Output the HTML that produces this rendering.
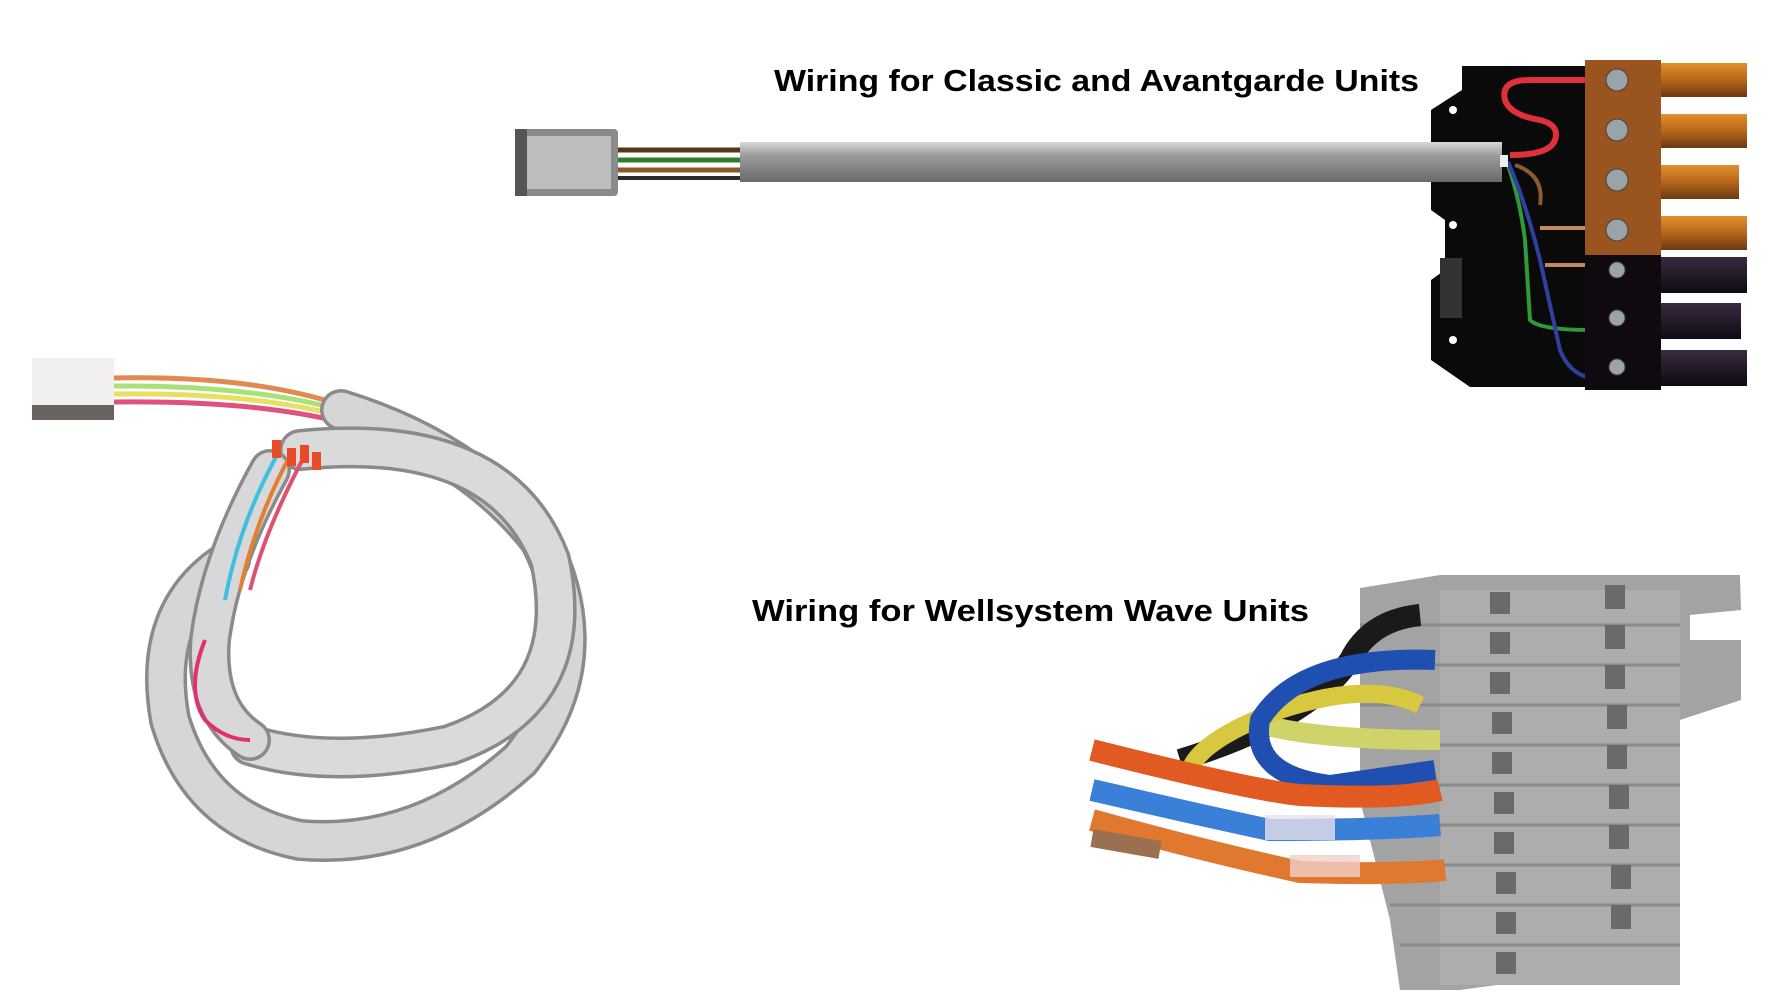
<!DOCTYPE html>
<html><head><meta charset="utf-8"><style>
html,body{margin:0;padding:0;background:#fff;}
svg{display:block}
text{font-family:"Liberation Sans",sans-serif;font-weight:bold;fill:#000}
</style></head><body>
<svg width="1775" height="1002" viewBox="0 0 1775 1002" xmlns="http://www.w3.org/2000/svg">
<defs>
<linearGradient id="cab" x1="0" y1="0" x2="0" y2="1">
<stop offset="0" stop-color="#d8d8d8"/><stop offset="0.35" stop-color="#9a9a9a"/><stop offset="1" stop-color="#6a6a6a"/></linearGradient>
<linearGradient id="pin" x1="0" y1="0" x2="0" y2="1">
<stop offset="0" stop-color="#e0902e"/><stop offset="0.5" stop-color="#b8661a"/><stop offset="1" stop-color="#6a3a10"/></linearGradient>
<linearGradient id="dpin" x1="0" y1="0" x2="0" y2="1">
<stop offset="0" stop-color="#3a2a40"/><stop offset="1" stop-color="#0e0a12"/></linearGradient>
</defs>

<text x="774" y="91" font-size="31" textLength="645" lengthAdjust="spacingAndGlyphs">Wiring for Classic and Avantgarde Units</text>
<text x="752" y="621" font-size="31" textLength="557" lengthAdjust="spacingAndGlyphs">Wiring  for Wellsystem Wave Units</text>

<!-- Top cable -->
<rect x="515" y="129" width="103" height="67" rx="4" fill="#8a8a8a"/>
<rect x="522" y="136" width="89" height="53" fill="#bdbdbd"/>
<rect x="515" y="129" width="12" height="67" fill="#555"/>
<line x1="618" y1="150" x2="740" y2="150" stroke="#5a3418" stroke-width="5"/>
<line x1="618" y1="160" x2="740" y2="160" stroke="#2f7d32" stroke-width="5"/>
<line x1="618" y1="170" x2="740" y2="170" stroke="#8a5a2a" stroke-width="5"/>
<line x1="618" y1="178" x2="740" y2="178" stroke="#2a2a2a" stroke-width="4"/>

<!-- Terminal block -->
<polygon points="1462,66 1595,66 1595,387 1470,387 1431,360 1431,280 1445,270 1445,220 1431,210 1431,110 1462,90" fill="#0a0a0a"/>
<circle cx="1453" cy="110" r="4" fill="#fff"/><circle cx="1453" cy="225" r="4" fill="#fff"/><circle cx="1453" cy="340" r="4" fill="#fff"/>
<rect x="1440" y="258" width="22" height="60" fill="#333"/>
<path d="M1585,80 L1530,80 Q1500,80 1505,100 Q1510,115 1540,120 Q1560,125 1555,140 Q1550,155 1510,155" fill="none" stroke="#e0303a" stroke-width="6"/>
<path d="M1508,165 Q1520,200 1525,240 L1530,320 Q1540,330 1590,330" fill="none" stroke="#2f9a3a" stroke-width="4"/>
<path d="M1508,162 Q1525,200 1540,260 L1560,350 Q1570,375 1592,378" fill="none" stroke="#3040a0" stroke-width="4"/>
<path d="M1515,165 Q1545,175 1540,205" fill="none" stroke="#8a5a30" stroke-width="4"/>
<line x1="1540" y1="228" x2="1585" y2="228" stroke="#c08a60" stroke-width="4"/>
<line x1="1545" y1="265" x2="1585" y2="265" stroke="#c08a60" stroke-width="4"/>
<rect x="740" y="142" width="762" height="40" fill="url(#cab)"/>
<rect x="1500" y="155" width="8" height="12" fill="#eee"/>
<rect x="1585" y="60" width="76" height="195" fill="#9a5420"/>
<rect x="1585" y="255" width="76" height="135" fill="#0e0a10"/>
<g fill="#9aa4a8" stroke="#444" stroke-width="1">
<circle cx="1617" cy="80" r="11"/><circle cx="1617" cy="130" r="11"/><circle cx="1617" cy="180" r="11"/><circle cx="1617" cy="230" r="11"/>
<circle cx="1617" cy="270" r="8"/><circle cx="1617" cy="318" r="8"/><circle cx="1617" cy="367" r="8"/></g>
<rect x="1661" y="63" width="86" height="34" fill="url(#pin)"/>
<rect x="1661" y="114" width="86" height="34" fill="url(#pin)"/>
<rect x="1661" y="165" width="78" height="34" fill="url(#pin)"/>
<rect x="1661" y="216" width="86" height="34" fill="url(#pin)"/>
<rect x="1661" y="257" width="86" height="36" fill="url(#dpin)"/>
<rect x="1661" y="303" width="80" height="36" fill="url(#dpin)"/>
<rect x="1661" y="350" width="86" height="36" fill="url(#dpin)"/>

<!-- Left coil cable -->
<rect x="32" y="358" width="82" height="62" fill="#f2f0ee"/>
<rect x="32" y="405" width="82" height="15" fill="#6a6460"/>
<g fill="none" stroke-width="5">
<path d="M114,378 Q250,375 341,405" stroke="#e08a50"/>
<path d="M114,386 Q250,385 341,410" stroke="#a8e07a"/>
<path d="M114,394 Q250,392 341,416" stroke="#e8e060"/>
<path d="M114,402 Q250,400 341,422" stroke="#e05080"/>
</g>
<g fill="none" stroke-linecap="round">
<path d="M341,410 Q470,450 540,540 Q600,660 520,760 Q420,850 300,840 Q200,820 170,720 Q150,610 230,560" stroke="#8a8a8a" stroke-width="42"/>
<path d="M341,410 Q470,450 540,540 Q600,660 520,760 Q420,850 300,840 Q200,820 170,720 Q150,610 230,560" stroke="#d6d6d8" stroke-width="35"/>
<path d="M300,450 Q500,430 550,560 Q580,700 450,745 Q330,770 250,745" stroke="#8a8a8a" stroke-width="42"/>
<path d="M300,450 Q500,430 550,560 Q580,700 450,745 Q330,770 250,745" stroke="#dadadc" stroke-width="35"/>
<path d="M270,470 Q220,560 210,640 Q205,710 250,740" stroke="#8a8a8a" stroke-width="42"/>
<path d="M270,470 Q220,560 210,640 Q205,710 250,740" stroke="#d8d8da" stroke-width="35"/>
</g>
<g fill="none" stroke-width="4">
<path d="M280,450 Q240,520 225,600" stroke="#40c0e0"/>
<path d="M292,452 Q255,520 240,590" stroke="#e08030"/>
<path d="M305,455 Q265,530 250,590" stroke="#e05070"/>
<path d="M205,640 Q185,690 205,720 Q225,740 250,740" stroke="#e03070"/>
</g>
<g fill="#e84a2a"><rect x="272" y="440" width="9" height="18"/><rect x="287" y="448" width="9" height="18"/><rect x="300" y="445" width="9" height="18"/><rect x="312" y="452" width="9" height="18"/></g>

<!-- Bottom-right connector -->
<polygon points="1360,588 1440,575 1740,575 1741,610 1690,615 1690,640 1741,640 1741,700 1680,720 1680,960 1460,990 1400,990 1390,920 1380,880 1360,800" fill="#a3a3a3"/>
<rect x="1440" y="590" width="240" height="395" fill="#adadad"/>
<g stroke="#8a8a8a" stroke-width="3">
<line x1="1360" y1="625" x2="1680" y2="625"/><line x1="1360" y1="665" x2="1680" y2="665"/>
<line x1="1360" y1="705" x2="1680" y2="705"/><line x1="1360" y1="745" x2="1680" y2="745"/>
<line x1="1380" y1="785" x2="1680" y2="785"/><line x1="1380" y1="825" x2="1680" y2="825"/>
<line x1="1390" y1="865" x2="1680" y2="865"/><line x1="1390" y1="905" x2="1680" y2="905"/>
<line x1="1400" y1="945" x2="1680" y2="945"/></g>
<g fill="#6a6a6a">
<rect x="1490" y="592" width="20" height="22"/><rect x="1490" y="632" width="20" height="22"/><rect x="1490" y="672" width="20" height="22"/>
<rect x="1492" y="712" width="20" height="22"/><rect x="1492" y="752" width="20" height="22"/><rect x="1494" y="792" width="20" height="22"/>
<rect x="1494" y="832" width="20" height="22"/><rect x="1496" y="872" width="20" height="22"/><rect x="1496" y="912" width="20" height="22"/><rect x="1496" y="952" width="20" height="22"/>
<rect x="1605" y="585" width="20" height="24"/><rect x="1605" y="625" width="20" height="24"/><rect x="1605" y="665" width="20" height="24"/>
<rect x="1607" y="705" width="20" height="24"/><rect x="1607" y="745" width="20" height="24"/><rect x="1609" y="785" width="20" height="24"/>
<rect x="1609" y="825" width="20" height="24"/><rect x="1611" y="865" width="20" height="24"/><rect x="1611" y="905" width="20" height="24"/></g>
<g fill="none" stroke-linecap="butt">
<path d="M1420,615 Q1370,620 1350,660 Q1310,720 1180,760" stroke="#1a1a1a" stroke-width="22"/>
<path d="M1440,740 Q1300,740 1250,720" stroke="#d0d36a" stroke-width="20"/>
<path d="M1420,705 Q1370,680 1280,710 Q1200,740 1190,770" stroke="#d8c840" stroke-width="18"/>
<path d="M1435,660 Q1300,655 1260,720 Q1250,775 1330,785 L1435,770" stroke="#1f4fb0" stroke-width="20"/>
<path d="M1092,750 Q1250,790 1300,795 Q1400,800 1440,790" stroke="#e05a22" stroke-width="22"/>
<path d="M1092,790 Q1200,815 1270,830 Q1380,830 1440,825" stroke="#3a7fd8" stroke-width="22"/>
<path d="M1092,820 Q1200,850 1300,872 Q1400,875 1445,870" stroke="#e07830" stroke-width="22"/>
<path d="M1092,838 L1160,850" stroke="#9a7050" stroke-width="18"/>
</g>
<rect x="1265" y="815" width="70" height="25" fill="#e8e0ea" opacity="0.8"/>
<rect x="1290" y="855" width="70" height="22" fill="#f0d0c8" opacity="0.8"/>
</svg>
</body></html>
